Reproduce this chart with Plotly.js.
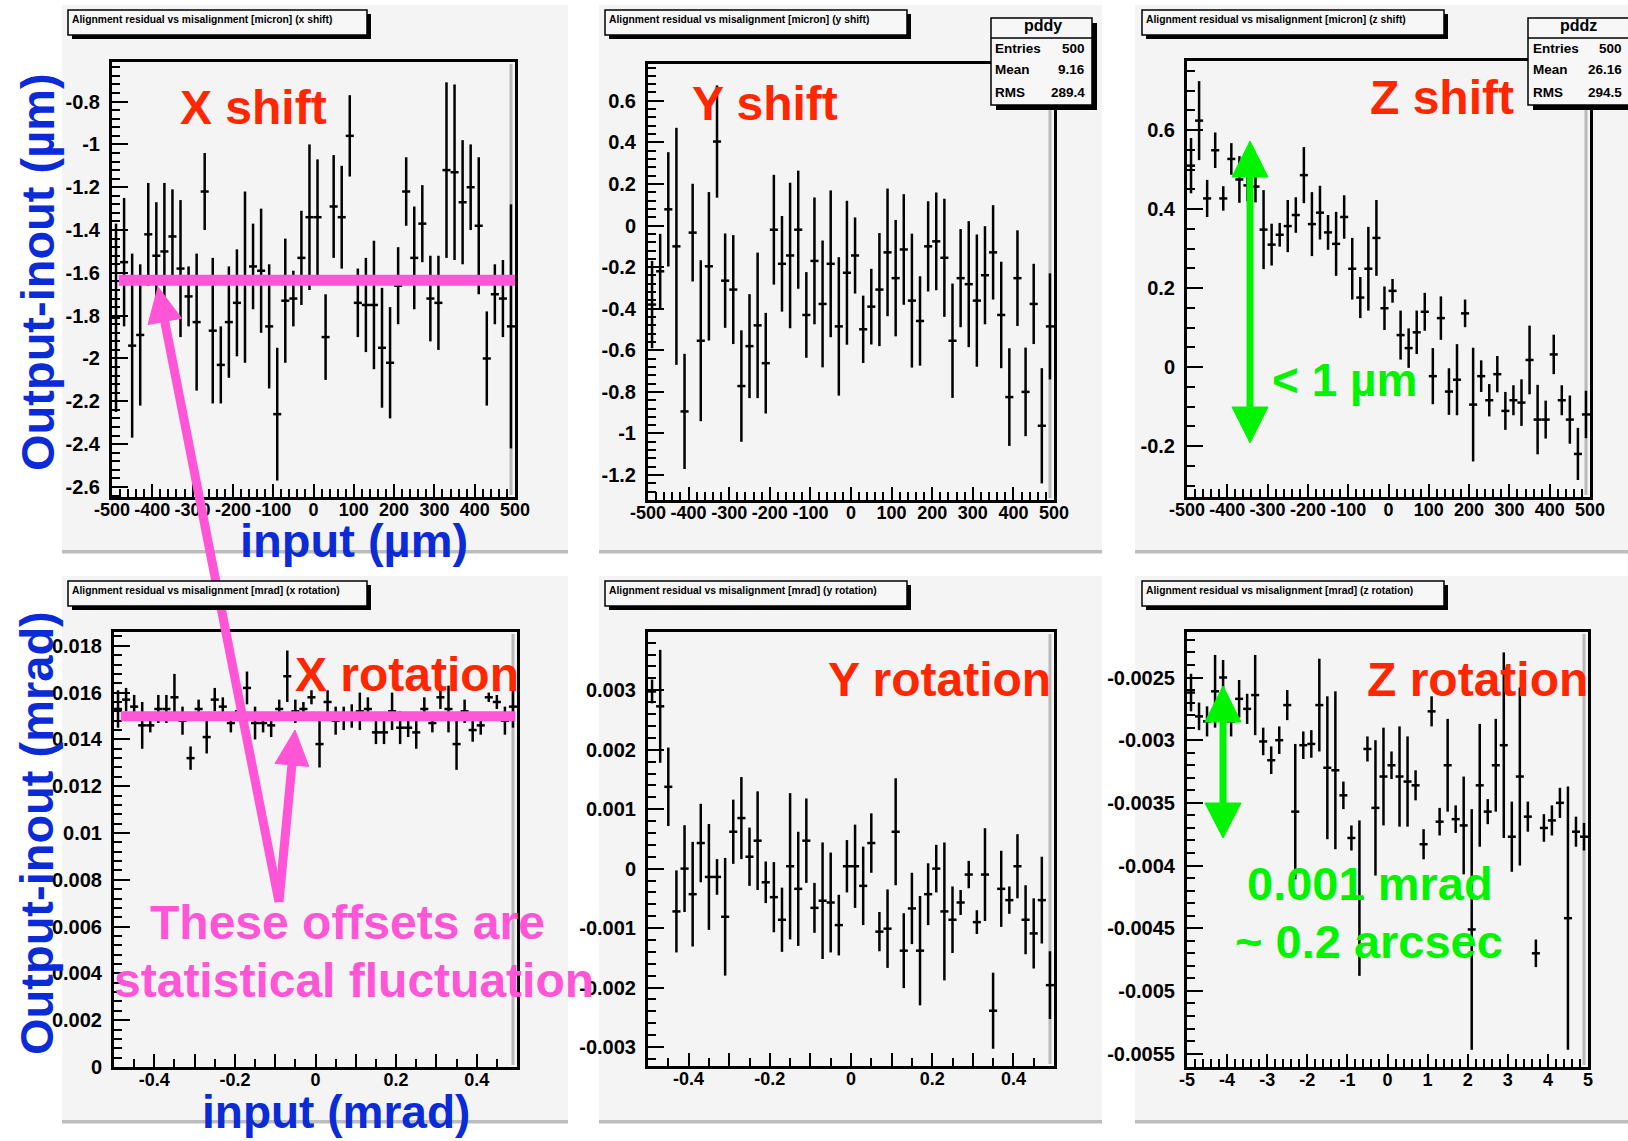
<!DOCTYPE html>
<html><head><meta charset="utf-8">
<script src="https://cdn.plot.ly/plotly-3.0.1.min.js"></script>
<style>html,body{margin:0;padding:0;background:#fff}#chart{width:1628px;height:1141px}</style>
</head><body><div id="chart"></div>
<script>
// ---------------- DATA ----------------
const binsShift = [-490,-470,-450,-430,-410,-390,-370,-350,-330,-310,-290,-270,-250,-230,-210,-190,-170,-150,-130,-110,-90,-70,-50,-30,-10,10,30,50,70,90,110,130,150,170,190,210,230,250,270,290,310,330,350,370,390,410,430,450,470,490];
const binsRot = [-0.49,-0.47,-0.45,-0.43,-0.41,-0.39,-0.37,-0.35,-0.33,-0.31,-0.29,-0.27,-0.25,-0.23,-0.21,-0.19,-0.17,-0.15,-0.13,-0.11,-0.09,-0.07,-0.05,-0.03,-0.01,0.01,0.03,0.05,0.07,0.09,0.11,0.13,0.15,0.17,0.19,0.21,0.23,0.25,0.27,0.29,0.31,0.33,0.35,0.37,0.39,0.41,0.43,0.45,0.47,0.49];
const binsZrot = [-4.9,-4.7,-4.5,-4.3,-4.1,-3.9,-3.7,-3.5,-3.3,-3.1,-2.9,-2.7,-2.5,-2.3,-2.1,-1.9,-1.7,-1.5,-1.3,-1.1,-0.9,-0.7,-0.5,-0.3,-0.1,0.1,0.3,0.5,0.7,0.9,1.1,1.3,1.5,1.7,1.9,2.1,2.3,2.5,2.7,2.9,3.1,3.3,3.5,3.7,3.9,4.1,4.3,4.5,4.7,4.9];
const halfBinShift = 10, halfBinRot = 0.01, halfBinZrot = 0.1;

// X shift
const xShiftVal = [-1.81,-1.55,-1.94,-1.89,-1.42,-1.52,-1.50,-1.43,-1.58,-1.71,-1.83,-1.22,-1.87,-2.03,-1.83,-1.74,-1.62,-1.57,-1.59,-1.85,-2.26,-1.73,-1.72,-1.53,-1.34,-1.34,-1.90,-1.29,-1.34,-0.96,-1.74,-1.75,-1.75,-1.95,-2.02,-1.66,-1.22,-1.53,-1.37,-1.72,-1.74,-1.12,-1.13,-1.27,-1.20,-1.38,-2.00,-1.70,-1.72,-1.85];
const xShiftErr = [0.44,0.30,0.43,0.33,0.24,0.25,0.32,0.22,0.32,0.14,0.32,0.18,0.34,0.18,0.26,0.25,0.40,0.20,0.29,0.29,0.31,0.29,0.13,0.22,0.34,0.27,0.20,0.24,0.24,0.19,0.16,0.22,0.30,0.28,0.26,0.18,0.16,0.24,0.18,0.20,0.22,0.41,0.41,0.29,0.20,0.32,0.22,0.14,0.18,0.57];
// Y shift
const yShiftVal = [-0.38,-0.22,0.078,-0.10,-0.894,-0.034,-0.554,-0.196,0.404,-0.265,-0.308,-0.772,-0.58,-0.48,-0.662,-0.02,-0.184,-0.144,-0.02,-0.43,-0.17,-0.377,-0.184,-0.485,-0.227,-0.144,-0.499,-0.39,-0.308,-0.129,-0.253,-0.115,-0.361,-0.459,-0.10,-0.076,-0.155,-0.554,-0.253,-0.282,-0.361,-0.239,-0.129,-0.43,-0.825,-0.253,-0.80,-0.377,-0.963,-0.485];
const yShiftErr = [0.21,0.18,0.275,0.57,0.277,0.235,0.387,0.357,0.27,0.227,0.262,0.268,0.25,0.35,0.242,0.264,0.23,0.35,0.284,0.206,0.305,0.305,0.353,0.333,0.346,0.183,0.162,0.182,0.272,0.307,0.28,0.266,0.322,0.215,0.217,0.235,0.284,0.275,0.236,0.303,0.318,0.236,0.227,0.256,0.235,0.23,0.213,0.193,0.277,0.255];
// Z shift
const zShiftVal = [0.51,0.624,0.427,0.549,0.427,0.527,0.475,0.46,0.457,0.348,0.31,0.335,0.357,0.385,0.486,0.362,0.391,0.341,0.312,0.38,0.249,0.176,0.249,0.327,0.149,0.193,0.081,0.048,0.088,0.14,-0.023,0.124,-0.062,-0.032,0.136,-0.095,-0.023,-0.084,-0.018,-0.111,-0.084,-0.09,0.018,-0.133,-0.133,0.032,-0.084,-0.133,-0.22,-0.12];
const zShiftErr = [0.07,0.10,0.047,0.045,0.031,0.04,0.059,0.04,0.04,0.10,0.053,0.03,0.066,0.045,0.071,0.081,0.068,0.044,0.081,0.055,0.078,0.052,0.106,0.096,0.055,0.03,0.062,0.05,0.055,0.048,0.071,0.055,0.059,0.09,0.035,0.144,0.04,0.041,0.046,0.048,0.038,0.059,0.087,0.088,0.048,0.05,0.038,0.061,0.066,0.06];
// X rotation
const xRotVal = [0.0153,0.0157,0.0154,0.0146,0.0146,0.0153,0.0153,0.0158,0.0148,0.0132,0.0153,0.0141,0.0157,0.0154,0.0147,0.0152,0.0162,0.0147,0.0147,0.0146,0.0153,0.0167,0.0152,0.0153,0.0158,0.0138,0.0156,0.0148,0.0149,0.0150,0.0152,0.0153,0.0143,0.0143,0.0152,0.0145,0.0145,0.0143,0.0153,0.0147,0.0158,0.0153,0.0138,0.0152,0.0144,0.0146,0.0158,0.0156,0.0148,0.0154];
const xRotErr = [0.0008,0.0005,0.0005,0.001,0.0003,0.0006,0.0006,0.001,0.0006,0.0005,0.0004,0.0007,0.0005,0.0004,0.0004,0.0003,0.0007,0.0007,0.0004,0.0005,0.0004,0.0011,0.0005,0.0003,0.0003,0.001,0.0005,0.0006,0.0005,0.0005,0.0008,0.0005,0.0005,0.0005,0.0008,0.0007,0.0004,0.0007,0.0005,0.0004,0.0005,0.001,0.0011,0.0005,0.0005,0.0004,0.0002,0.0003,0.0006,0.0009];
// Y rotation
const yRotVal = [0.00298,0.00273,0.001376,-0.00072,0.0,-0.00043,0.00043,-0.00014,-0.00014,-0.00081,0.00062,0.00085,0.0002,0.00047,-0.00023,-0.00048,-0.00086,0.00004,-0.00034,0.00047,-0.00066,-0.00054,-0.00057,-0.00095,0.00004,0.00004,-0.00029,0.00043,-0.00106,-0.00101,0.00062,-0.00138,-0.00067,-0.00138,-0.00043,0.0,-0.00072,-0.00086,-0.00057,-0.0001,-0.0009,-0.0001,-0.00239,-0.00034,-0.00053,0.00004,-0.00086,-0.00109,-0.00053,-0.00196];
const yRotErr = [0.0002,0.00095,0.00066,0.00069,0.00073,0.00088,0.00066,0.00089,0.0003,0.00099,0.00054,0.00069,0.00049,0.00083,0.00035,0.00059,0.00054,0.00123,0.00096,0.00071,0.00042,0.00098,0.00084,0.00051,0.00044,0.0007,0.00066,0.0005,0.00033,0.00066,0.0009,0.00063,0.0006,0.00092,0.00052,0.0004,0.00116,0.00056,0.00021,0.00023,0.0002,0.00078,0.00064,0.00064,0.00023,0.00054,0.00058,0.00059,0.00073,0.00057];
// Z rotation
const zRotVal = [-0.00262,-0.00281,-0.00285,-0.00261,-0.0025,-0.00285,-0.00267,-0.00275,-0.00264,-0.00301,-0.00316,-0.0030,-0.00272,-0.00357,-0.00304,-0.00303,-0.00272,-0.00322,-0.00324,-0.00344,-0.00378,-0.00426,-0.00307,-0.00354,-0.00329,-0.0032,-0.00329,-0.00333,-0.00336,-0.00383,-0.00277,-0.00365,-0.0032,-0.00363,-0.00368,-0.00451,-0.00336,-0.00357,-0.0032,-0.00304,-0.00377,-0.00329,-0.00361,-0.0047,-0.0037,-0.00364,-0.0035,-0.00442,-0.00373,-0.00377];
const zRotErr = [0.00015,0.00011,0.00012,0.00029,0.00014,0.00012,0.00015,0.00012,0.00032,0.00011,0.00011,0.00011,0.00012,0.00054,0.00011,0.00011,0.00037,0.00057,0.00063,0.00011,0.0001,0.00062,0.0001,0.00054,0.00039,0.00011,0.0004,0.00036,0.00012,0.00012,0.00012,0.00011,0.00037,0.00011,0.00039,0.00096,0.00049,0.0001,0.00037,0.00074,0.00028,0.00071,0.00012,0.00011,0.00011,0.00012,0.00012,0.00105,0.00012,0.00011];

// tick labels
const shiftTickVals = [-500,-400,-300,-200,-100,0,100,200,300,400,500];
const shiftTickText = ['-500','-400','-300','-200','-100','0','100','200','300','400','500'];
const xShiftYTickVals = [-2.6,-2.4,-2.2,-2,-1.8,-1.6,-1.4,-1.2,-1,-0.8];
const xShiftYTickText = ['-2.6','-2.4','-2.2','-2','-1.8','-1.6','-1.4','-1.2','-1','-0.8'];
const yShiftYTickVals = [-1.2,-1,-0.8,-0.6,-0.4,-0.2,0,0.2,0.4,0.6];
const yShiftYTickText = ['-1.2','-1','-0.8','-0.6','-0.4','-0.2','0','0.2','0.4','0.6'];
const zShiftYTickVals = [-0.2,0,0.2,0.4,0.6];
const zShiftYTickText = ['-0.2','0','0.2','0.4','0.6'];
const rotTickVals = [-0.4,-0.3,-0.2,-0.1,0,0.1,0.2,0.3,0.4];
const rotTickText = ['-0.4','','-0.2','','0','','0.2','','0.4'];
const xRotYTickVals = [0,0.002,0.004,0.006,0.008,0.01,0.012,0.014,0.016,0.018];
const xRotYTickText = ['0','0.002','0.004','0.006','0.008','0.01','0.012','0.014','0.016','0.018'];
const yRotYTickVals = [-0.003,-0.002,-0.001,0,0.001,0.002,0.003];
const yRotYTickText = ['-0.003','-0.002','-0.001','0','0.001','0.002','0.003'];
const zRotXTickVals = [-5,-4,-3,-2,-1,0,1,2,3,4,5];
const zRotXTickText = ['-5','-4','-3','-2','-1','0','1','2','3','4','5'];
const zRotYTickVals = [-0.0055,-0.005,-0.0045,-0.004,-0.0035,-0.003,-0.0025];
const zRotYTickText = ['-0.0055','-0.005','-0.0045','-0.004','-0.0035','-0.003','-0.0025'];

const panelTitles = ['Alignment residual vs misalignment [micron] (x shift)','Alignment residual vs misalignment [micron] (y shift)','Alignment residual vs misalignment [micron] (z shift)','Alignment residual vs misalignment [mrad] (x rotation)','Alignment residual vs misalignment [mrad] (y rotation)','Alignment residual vs misalignment [mrad] (z rotation)'];
const statsY = {name:'pddy', labels:['Entries','Mean','RMS'], values:['500','9.16','289.4']};
const statsZ = {name:'pddz', labels:['Entries','Mean','RMS'], values:['500','26.16','294.5']};
const xShiftOffset = -1.635, xRotOffset = 0.01499;

// ---------------- LAYOUT HELPERS ----------------
const W = 1628, H = 1141;
const px = x => x / W, py = y => 1 - y / H;
const FONT = 'Liberation Sans, Arial, Helvetica, sans-serif';
const RED = '#ff2600', PINK = '#ff55d6', GREEN = '#00f400', BLUE = '#0a2bd6';

const frames = [
  {l:112, r:515, t:62, b:497},
  {l:648, r:1054, t:64, b:500},
  {l:1187, r:1590, t:61, b:497},
  {l:114, r:517, t:632, b:1067},
  {l:648, r:1054, t:632, b:1066},
  {l:1187, r:1588, t:632, b:1067}
];

function mkAxis(f, isX, range, tv, tt, minorDtick, anchor) {
  return {
    domain: isX ? [px(f.l), px(f.r)] : [py(f.b), py(f.t)],
    range: range, anchor: anchor, autorange: false,
    showline: true, linecolor: '#000', linewidth: 3, mirror: true,
    showgrid: false, zeroline: false,
    ticks: 'inside', ticklen: isX ? 13 : 16, tickwidth: 2, tickcolor: '#000',
    tickmode: 'array', tickvals: tv, ticktext: tt, tickangle: 0,
    ticklabelstandoff: isX ? -6 : 5,
    tickfont: {family: FONT, size: isX ? 18 : 20, color: '#000', weight: 'bold'},
    minor: {tickmode: 'linear', tick0: 0, dtick: minorDtick, ticks: 'inside', ticklen: 8, tickwidth: 2, tickcolor: '#000', showgrid: false},
    fixedrange: true
  };
}

function profile(xs, ys, es, hw, xa, ya) {
  return {
    type: 'scatter', mode: 'markers', x: xs, y: ys, xaxis: xa, yaxis: ya,
    marker: {size: 2, color: '#000'},
    error_y: {type: 'data', array: es, visible: true, color: '#000', thickness: 2.5, width: 0},
    error_x: {type: 'constant', value: hw, visible: true, color: '#000', thickness: 2.5, width: 0},
    showlegend: false, hoverinfo: 'skip', cliponaxis: true
  };
}

const data = [
  profile(binsShift, xShiftVal, xShiftErr, halfBinShift, 'x', 'y'),
  profile(binsShift, yShiftVal, yShiftErr, halfBinShift, 'x2', 'y2'),
  profile(binsShift, zShiftVal, zShiftErr, halfBinShift, 'x3', 'y3'),
  profile(binsRot, xRotVal, xRotErr, halfBinRot, 'x4', 'y4'),
  profile(binsRot, yRotVal, yRotErr, halfBinRot, 'x5', 'y5'),
  profile(binsZrot, zRotVal, zRotErr, halfBinZrot, 'x6', 'y6')
];

const shapes = [];
function rectPx(x0, y0, x1, y1, fill, lineColor, lineW, layer) {
  shapes.push({type:'rect', xref:'paper', yref:'paper', x0:px(x0), x1:px(x1), y0:py(y1), y1:py(y0),
    fillcolor: fill, line:{color: lineColor || 'rgba(0,0,0,0)', width: lineW || 0}, layer: layer || 'above'});
}
function linePx(x0, y0, x1, y1, color, w, layer) {
  shapes.push({type:'line', xref:'paper', yref:'paper', x0:px(x0), y0:py(y0), x1:px(x1), y1:py(y1),
    line:{color: color, width: w}, layer: layer || 'above'});
}
function triPx(pts, color) {
  const d = 'M ' + pts.map(p => px(p[0]) + ' ' + py(p[1])).join(' L ') + ' Z';
  shapes.push({type:'path', xref:'paper', yref:'paper', path: d, fillcolor: color, line:{color: color, width: 1}, layer:'above'});
}

// pads
const pads = [[62,5,568,552],[599,5,1102,552],[1135,5,1628,552],[62,576,568,1122],[599,576,1102,1122],[1135,576,1628,1122]];
pads.forEach(p => {
  rectPx(p[0], p[1], p[2], p[3], '#f4f4f4', null, 0, 'below');
  rectPx(p[0], p[3]-2, p[2], p[3]+1.5, '#bdbdbd', null, 0, 'below');
});
// frame inner grey shading at right side
frames.forEach(f => linePx(f.r - 4, f.t + 2, f.r - 4, f.b - 2, '#b8b8b8', 3, 'below'));

// pink offset lines (in data coordinates)
shapes.push({type:'line', xref:'x', yref:'y', x0:-483, x1:500, y0:xShiftOffset, y1:xShiftOffset, line:{color:PINK, width:11}, layer:'above'});
shapes.push({type:'line', xref:'x4', yref:'y4', x0:-0.483, x1:0.496, y0:xRotOffset, y1:xRotOffset, line:{color:PINK, width:10}, layer:'above'});
// pink arrows
linePx(279, 902, 164.7, 321.4, PINK, 9);
triPx([[158, 287], [181.4, 318.2], [148.0, 324.6]], PINK);
linePx(279, 902, 291.9, 764.9, PINK, 9);
triPx([[295, 730], [308.8, 766.4], [275, 763.4]], PINK);
// green double arrows
linePx(1250, 172, 1250, 410, GREEN, 7);
triPx([[1250, 141], [1268, 177], [1232, 177]], GREEN);
triPx([[1250, 443], [1268, 407], [1232, 407]], GREEN);
linePx(1223, 719, 1223, 806, GREEN, 7);
triPx([[1223, 686], [1241, 722], [1205, 722]], GREEN);
triPx([[1223, 838], [1241, 803], [1205, 803]], GREEN);

// title boxes
const titleBoxes = [[68,10,367],[605,10,907],[1142,10,1444],[68,581,367],[605,581,907],[1142,581,1444]];
const annotations = [];
titleBoxes.forEach((b, i) => {
  rectPx(b[0]+4, b[1]+4, b[2]+4, b[1]+29, '#000');
  rectPx(b[0], b[1], b[2], b[1]+25, '#f7f7f7', '#000', 1.5);
  annotations.push({xref:'paper', yref:'paper', x:px(b[0]+2), y:py(b[1]+9), xanchor:'left', yanchor:'middle',
    text:'<b>' + panelTitles[i] + '</b>', showarrow:false, font:{family:FONT, size:10.3, color:'#000'}});
});

// stats boxes
function statsBox(x0, x1, labX, valX, hdrX, st) {
  rectPx(x0+5, 23, x1+5, 110, '#000');
  rectPx(x0, 18, x1, 105, '#f7f7f7', '#000', 1.5);
  linePx(x0, 38, x1, 38, '#000', 1.5);
  annotations.push({xref:'paper', yref:'paper', x:px(hdrX), y:py(26), xanchor:'center', yanchor:'middle',
    text:'<b>' + st.name + '</b>', showarrow:false, font:{family:FONT, size:16, color:'#000'}});
  [48, 69, 92].forEach((yy, k) => {
    annotations.push({xref:'paper', yref:'paper', x:px(labX), y:py(yy), xanchor:'left', yanchor:'middle',
      text:'<b>' + st.labels[k] + '</b>', showarrow:false, font:{family:FONT, size:13.5, color:'#000'}});
    annotations.push({xref:'paper', yref:'paper', x:px(valX), y:py(yy), xanchor:'right', yanchor:'middle',
      text:'<b>' + st.values[k] + '</b>', showarrow:false, font:{family:FONT, size:13.5, color:'#000'}});
  });
}
statsBox(991, 1092, 993, 1087, 1043, statsY);
statsBox(1528, 1632, 1531, 1624, 1578, statsZ);

function txt(s, x, y, color, size, angle) {
  annotations.push({xref:'paper', yref:'paper', x:px(x), y:py(y), xanchor:'center', yanchor:'middle',
    text:'<b>' + s + '</b>', showarrow:false, textangle: angle || 0, font:{family:FONT, size:size, color:color}});
}
txt('X shift', 253, 107, RED, 48);
txt('Y shift', 765, 104, RED, 48);
txt('Z shift', 1442, 98, RED, 48);
txt('X rotation', 407, 674, RED, 48);
txt('Y rotation', 940, 679, RED, 48);
txt('Z rotation', 1477, 679, RED, 48);
txt('These offsets are', 347, 922, PINK, 48);
txt('statistical fluctuation', 354, 980, PINK, 48);
txt('&lt; 1 µm', 1344, 380, GREEN, 46);
txt('0.001 mrad', 1370, 883, GREEN, 47);
txt('~ 0.2 arcsec', 1369, 941, GREEN, 47);
txt('Output-inout (µm)', 37, 272, BLUE, 47, -90);
txt('Output-inout (mrad)', 36, 833, BLUE, 47, -90);
txt('input (µm)', 354, 540, BLUE, 47);
txt('input (mrad)', 336, 1112, BLUE, 46);

const F = frames;
const layout = {
  width: W, height: H, margin: {l:0, r:0, t:0, b:0},
  paper_bgcolor: '#ffffff', plot_bgcolor: 'rgba(0,0,0,0)',
  showlegend: false, hovermode: false,
  xaxis:  mkAxis(F[0], true, [-500, 500], shiftTickVals, shiftTickText, 20, 'y'),
  yaxis:  mkAxis(F[0], false, [-2.647, -0.615], xShiftYTickVals, xShiftYTickText, 0.04, 'x'),
  xaxis2: mkAxis(F[1], true, [-500, 500], shiftTickVals, shiftTickText, 20, 'y2'),
  yaxis2: mkAxis(F[1], false, [-1.32, 0.777], yShiftYTickVals, yShiftYTickText, 0.04, 'x2'),
  xaxis3: mkAxis(F[2], true, [-500, 500], shiftTickVals, shiftTickText, 20, 'y3'),
  yaxis3: mkAxis(F[2], false, [-0.329, 0.775], zShiftYTickVals, zShiftYTickText, 0.05, 'x3'),
  xaxis4: mkAxis(F[3], true, [-0.5, 0.5], rotTickVals, rotTickText, 0.05, 'y4'),
  yaxis4: mkAxis(F[3], false, [0, 0.01859], xRotYTickVals, xRotYTickText, 0.0004, 'x4'),
  xaxis5: mkAxis(F[4], true, [-0.5, 0.5], rotTickVals, rotTickText, 0.05, 'y5'),
  yaxis5: mkAxis(F[4], false, [-0.00332, 0.00398], yRotYTickVals, yRotYTickText, 0.0002, 'x5'),
  xaxis6: mkAxis(F[5], true, [-5, 5], zRotXTickVals, zRotXTickText, 0.2, 'y6'),
  yaxis6: mkAxis(F[5], false, [-0.005607, -0.002137], zRotYTickVals, zRotYTickText, 0.0001, 'x6'),
  shapes: shapes, annotations: annotations
};

Plotly.newPlot('chart', data, layout, {staticPlot: true, displayModeBar: false});
</script>
</body></html>
